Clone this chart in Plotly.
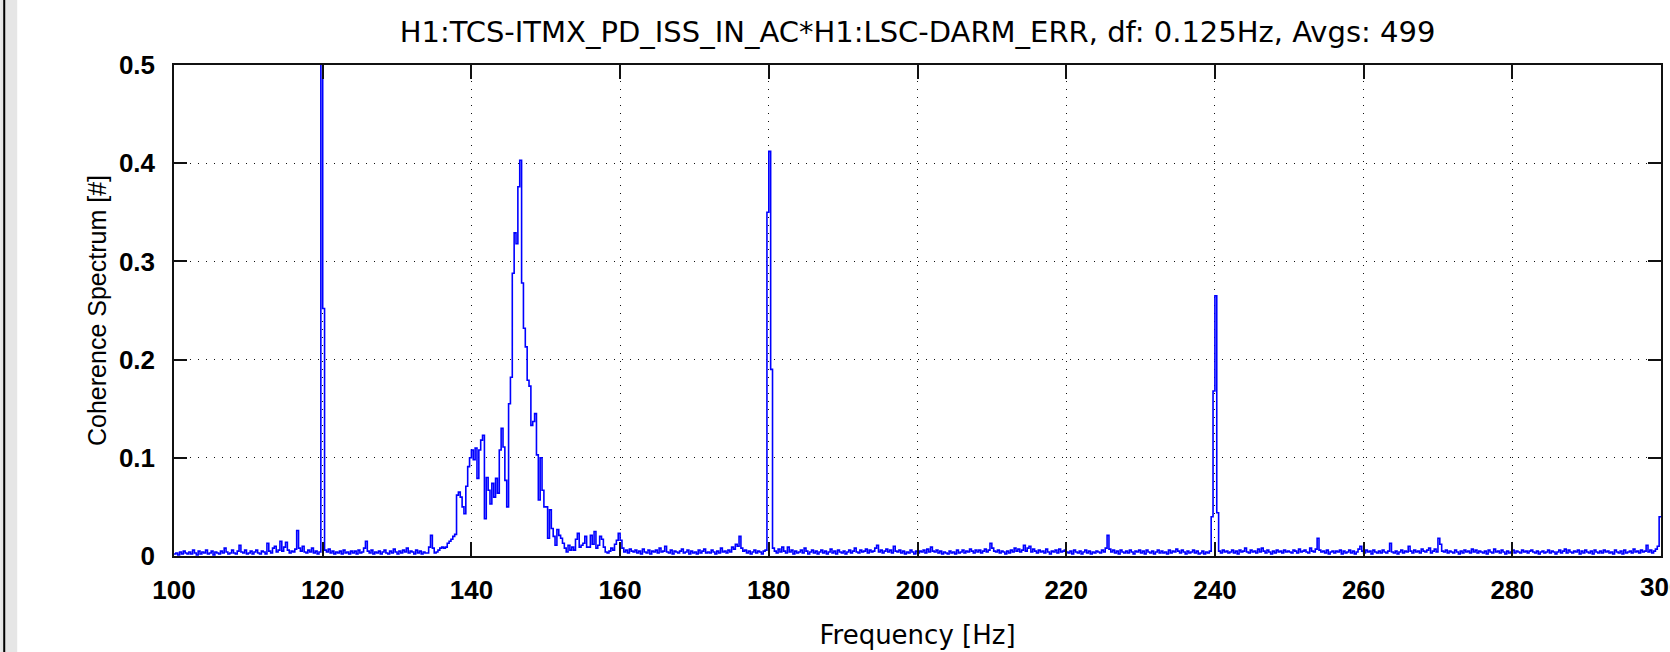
import numpy as np
import plotly.graph_objects as go

# ---------------- data ----------------
# frequency grid: 100 .. 300 Hz, 0.25 Hz spacing (801 samples)
f_start, f_stop = 100.0, 300.0
n_pts = 801

# coherence values, in units of 1e-3, rows of 2 Hz (8 values)
coh_100_120 = [
    2, 3, 1, 4, 2, 5, 3, 2,
    4, 2, 6, 3, 1, 5, 2, 4,
    3, 6, 2, 3, 5, 1, 4, 3,
    2, 5, 3, 8, 4, 2, 3, 6,
    3, 2, 5, 11, 4, 3, 6, 2,
    3, 5, 2, 4, 6, 3, 2, 5,
    4, 2, 13, 5, 3, 8, 10, 4,
    6, 15, 5, 9, 14, 6, 3, 5,
    4, 7, 26, 8, 5, 10, 4, 3,
    6, 4, 8, 3, 5, 2, 4, 620,
]
coh_120_140 = [
    252, 6, 4, 7, 3, 5, 2, 4,
    3, 5, 2, 6, 3, 4, 2, 5,
    3, 5, 2, 6, 3, 4, 8, 15,
    5, 3, 6, 2, 4, 3, 5, 2,
    4, 6, 3, 2, 5, 3, 7, 4,
    2, 5, 3, 6, 4, 8, 3, 5,
    4, 2, 6, 3, 5, 2, 4, 3,
    3, 9, 21, 8, 3, 4, 6, 8,
    9, 8, 9, 13, 15, 17, 20, 22,
    62, 65, 60, 50, 43, 71, 91, 100,
]
coh_140_160 = [
    108, 98, 110, 79, 108, 118, 123, 38,
    80, 67, 53, 74, 60, 79, 64, 108,
    130, 111, 77, 50, 155, 182, 288, 329,
    318, 376, 403, 278, 232, 213, 179, 173,
    133, 137, 145, 103, 57, 100, 67, 50,
    50, 18, 47, 28, 20, 11, 27, 21,
    18, 13, 8, 4, 11, 6, 9, 6,
    17, 23, 9, 11, 13, 20, 9, 9,
    21, 12, 25, 8, 11, 20, 17, 9,
    4, 3, 5, 8, 6, 12, 16, 23,
]
coh_160_180 = [
    16, 8, 4, 6, 3, 7, 5, 4,
    6, 3, 5, 2, 7, 4, 3, 6,
    2, 5, 4, 6, 3, 8, 4, 5,
    10, 4, 3, 6, 2, 5, 4, 3,
    5, 7, 3, 4, 6, 2, 5, 3,
    4, 2, 6, 3, 5, 7, 3, 4,
    3, 6, 4, 2, 5, 3, 8, 4,
    5, 3, 6, 4, 9, 7, 12, 10,
    20, 8, 5, 6, 3, 5, 2, 4,
    6, 3, 5, 4, 2, 5, 6, 350,
]
coh_180_200 = [
    412, 190, 8, 5, 3, 7, 4, 9,
    5, 3, 9, 4, 6, 2, 5, 3,
    4, 6, 3, 8, 5, 2, 4, 6,
    3, 5, 2, 4, 6, 3, 5, 2,
    4, 7, 3, 5, 2, 6, 4, 3,
    5, 2, 4, 6, 3, 5, 8, 4,
    3, 6, 4, 5, 7, 3, 6, 4,
    5, 8, 11, 4, 6, 3, 5, 7,
    4, 6, 3, 10, 5, 4, 6, 3,
    5, 2, 4, 3, 6, 4, 2, 5,
]
coh_200_220 = [
    3, 5, 4, 6, 3, 7, 4, 9,
    5, 4, 6, 3, 5, 2, 4, 3,
    2, 5, 3, 4, 2, 6, 3, 4,
    6, 3, 5, 4, 7, 5, 3, 6,
    4, 6, 3, 5, 7, 4, 6, 13,
    8, 5, 4, 6, 3, 5, 4, 2,
    5, 3, 6, 4, 8, 5, 7, 4,
    6, 11, 5, 8, 10, 4, 7, 5,
    3, 6, 4, 5, 3, 7, 4, 2,
    5, 4, 6, 3, 7, 4, 5, 6,
]
coh_220_240 = [
    4, 3, 5, 2, 6, 4, 3, 5,
    2, 4, 6, 3, 5, 2, 4, 3,
    5, 4, 3, 6, 4, 8, 21, 7,
    4, 6, 3, 5, 2, 6, 4, 3,
    5, 3, 6, 4, 2, 5, 4, 6,
    3, 5, 2, 6, 4, 3, 5, 2,
    4, 6, 3, 5, 3, 4, 2, 6,
    3, 5, 4, 7, 5, 3, 6, 4,
    2, 5, 3, 4, 6, 3, 5, 2,
    3, 5, 2, 4, 3, 5, 40, 168,
]
coh_240_260 = [
    265, 44, 5, 3, 6, 4, 5, 3,
    4, 6, 3, 5, 2, 6, 4, 5,
    8, 4, 3, 6, 4, 5, 3, 7,
    4, 8, 5, 3, 6, 4, 2, 5,
    3, 6, 4, 5, 3, 6, 4, 5,
    4, 3, 6, 5, 3, 7, 4, 5,
    6, 4, 3, 8, 5, 4, 7, 18,
    6, 4, 5, 3, 6, 2, 4, 5,
    3, 5, 4, 6, 2, 5, 3, 4,
    6, 3, 5, 2, 4, 7, 10, 5,
]
coh_260_280 = [
    3, 6, 4, 5, 2, 6, 4, 3,
    5, 3, 6, 4, 3, 5, 13, 4,
    3, 5, 2, 4, 6, 3, 5, 4,
    10, 5, 3, 6, 4, 5, 3, 7,
    5, 4, 6, 8, 3, 5, 7, 4,
    18, 12, 5, 4, 6, 3, 5, 4,
    3, 6, 4, 2, 5, 3, 6, 4,
    5, 3, 7, 4, 6, 3, 5, 4,
    3, 5, 2, 6, 4, 3, 7, 4,
    5, 3, 6, 4, 2, 5, 3, 4,
]
coh_280_300 = [
    6, 3, 5, 4, 3, 6, 4, 5,
    3, 5, 6, 4, 3, 5, 2, 4,
    5, 3, 4, 6, 3, 5, 4, 2,
    4, 6, 3, 5, 7, 3, 6, 4,
    3, 5, 4, 6, 2, 5, 3, 6,
    4, 3, 5, 2, 6, 4, 3, 5,
    3, 6, 4, 5, 3, 4, 2, 6,
    4, 3, 5, 2, 6, 3, 4, 5,
    3, 7, 4, 5, 3, 6, 4, 5,
    11, 4, 6, 3, 5, 7, 10, 40,
    40,
]

x_ticks = [100, 120, 140, 160, 180, 200, 220, 240, 260, 280, 300]
x_ticktext = ["100", "120", "140", "160", "180", "200", "220", "240", "260", "280", "300"]
y_ticks = [0, 0.1, 0.2, 0.3, 0.4, 0.5]
y_ticktext = ["0", "0.1", "0.2", "0.3", "0.4", "0.5"]

title_text = "H1:TCS-ITMX_PD_ISS_IN_AC*H1:LSC-DARM_ERR, df: 0.125Hz, Avgs: 499"
x_title = "Frequency [Hz]"
y_title = "Coherence Spectrum [#]"

# ---------------- build ----------------
coh_milli = (coh_100_120 + coh_120_140 + coh_140_160 + coh_160_180 + coh_180_200
             + coh_200_220 + coh_220_240 + coh_240_260 + coh_260_280 + coh_280_300)
freq = np.linspace(f_start, f_stop, n_pts)
coh = np.array(coh_milli, dtype=float) / 1000.0

W, H = 1670, 652
ml, mr, mt, mb = 174, 7, 65, 96
pw = W - ml - mr
ph = H - mt - mb

def px2x(px):
    return (px - ml) / pw

def px2y(py):
    return (H - mb - py) / ph

tick_font = dict(family="Liberation Sans", size=26, color="#000", weight="bold")

# the last tick label runs off the right edge of the page (cut off in the reference);
# plotly drops it, so it is drawn as an annotation at the same spot
last_lbl = x_ticktext[-1]
x_ticktext_axis = x_ticktext[:-1] + [""]

fig = go.Figure()
fig.add_trace(go.Scatter(
    x=freq, y=coh, mode="lines",
    line=dict(color="#0000ff", width=1.6, shape="hv"),
    showlegend=False, hoverinfo="x+y",
))

grid_common = dict(
    showgrid=True, gridcolor="#111111", gridwidth=1, griddash="1px,7px",
    showline=True, linecolor="#111111", linewidth=1.5, mirror="allticks",
    ticks="inside", tickcolor="#111111", tickwidth=1.5,
    zeroline=False,
)

fig.update_layout(
    width=W, height=H,
    margin=dict(l=ml, r=mr, t=mt, b=mb, pad=0),
    paper_bgcolor="white", plot_bgcolor="white",
    title=dict(text=title_text, x=0.5, xref="paper", xanchor="center",
               y=1 - 32 / H, yref="container", yanchor="middle",
               font=dict(family="DejaVu Sans", size=29, color="#000")),
    xaxis=dict(range=[f_start, f_stop], tickvals=x_ticks, ticktext=x_ticktext_axis,
               ticklen=14, ticklabelstandoff=10,
               tickfont=tick_font,
               title=dict(text=x_title, standoff=22,
                          font=dict(family="DejaVu Sans", size=26, color="#000")),
               **grid_common),
    yaxis=dict(range=[0, 0.5], tickvals=y_ticks, ticktext=y_ticktext,
               ticklen=13, ticklabelstandoff=12,
               tickfont=tick_font,
               title=dict(text=y_title, standoff=5,
                          font=dict(family="Liberation Sans", size=25, color="#000")),
               **grid_common),
    annotations=[
        dict(text=last_lbl, x=x_ticks[-1], xref="x", y=px2y(587), yref="paper",
             xanchor="center", yanchor="middle", showarrow=False, font=tick_font),
    ],
    shapes=[
        dict(type="rect", xref="paper", yref="paper",
             x0=px2x(0), x1=px2x(17), y0=px2y(H), y1=px2y(0),
             fillcolor="#e6e6e6", line=dict(width=0), layer="below"),
        dict(type="rect", xref="paper", yref="paper",
             x0=px2x(3), x1=px2x(5), y0=px2y(H), y1=px2y(0),
             fillcolor="#000000", line=dict(width=0), layer="below"),
    ],
)

fig.write_html("out.html")
